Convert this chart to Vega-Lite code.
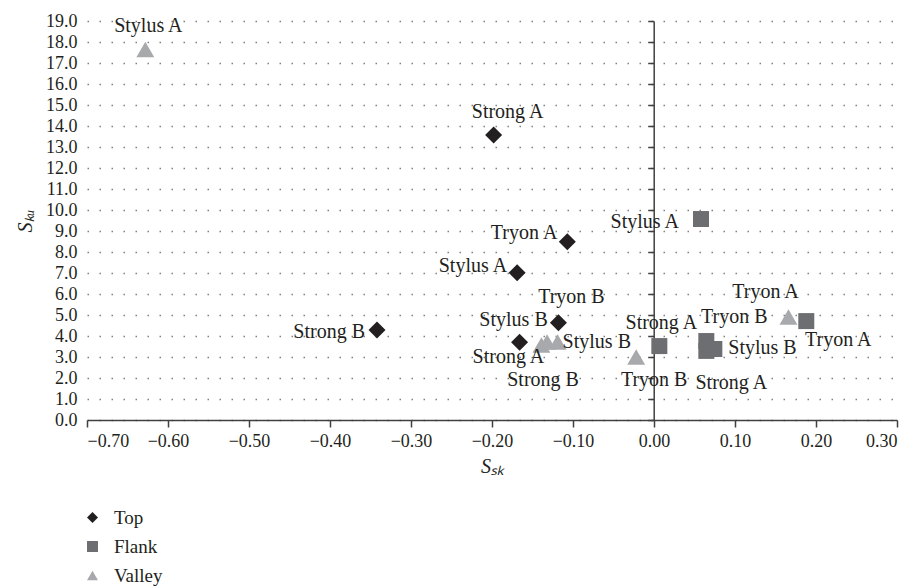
{
  "$schema": "https://vega.github.io/schema/vega-lite/v6.json",
  "width": 810,
  "height": 399,
  "autosize": {"type": "none"},
  "padding": {"left": 87, "top": 21, "right": 19, "bottom": 166},
  "background": "white",
  "config": {
    "view": {"stroke": null},
    "font": "Liberation Serif",
    "text": {"font": "Liberation Serif", "fontSize": 20, "color": "#231f20"},
    "axis": {"labelFont": "Liberation Serif", "titleFont": "Liberation Serif", "labelFontSize": 18, "titleFontSize": 20, "labelColor": "#231f20", "titleColor": "#231f20", "titleFontWeight": "normal"},
    "legend": {"labelFont": "Liberation Serif", "labelFontSize": 19, "labelColor": "#231f20"}
  },
  "data": {
    "values": [
      {"group": "Top", "label": "Strong A", "ssk": -0.198, "sku": 13.57},
      {"group": "Top", "label": "Tryon A", "ssk": -0.107, "sku": 8.49},
      {"group": "Top", "label": "Stylus A", "ssk": -0.169, "sku": 7.01},
      {"group": "Top", "label": "Strong B", "ssk": -0.342, "sku": 4.29},
      {"group": "Top", "label": "Tryon B", "ssk": -0.118, "sku": 4.63},
      {"group": "Top", "label": "Stylus B", "ssk": -0.166, "sku": 3.70},
      {"group": "Flank", "label": "Stylus A", "ssk": 0.058, "sku": 9.57},
      {"group": "Flank", "label": "Tryon A", "ssk": 0.188, "sku": 4.71},
      {"group": "Flank", "label": "Strong A", "ssk": 0.0066, "sku": 3.52},
      {"group": "Flank", "label": "Tryon B", "ssk": 0.0646, "sku": 3.76},
      {"group": "Flank", "label": "Stylus B", "ssk": 0.0745, "sku": 3.38},
      {"group": "Flank", "label": "Strong A", "ssk": 0.0646, "sku": 3.29},
      {"group": "Valley", "label": "Stylus A", "ssk": -0.628, "sku": 17.64},
      {"group": "Valley", "label": "Strong A", "ssk": -0.139, "sku": 3.57},
      {"group": "Valley", "label": "Strong B", "ssk": -0.132, "sku": 3.71},
      {"group": "Valley", "label": "Stylus B", "ssk": -0.119, "sku": 3.71},
      {"group": "Valley", "label": "Tryon A", "ssk": 0.166, "sku": 4.90},
      {"group": "Valley", "label": "Tryon B", "ssk": -0.022, "sku": 3.00}
    ]
  },
  "encoding": {
    "x": {
      "field": "ssk", "type": "quantitative",
      "scale": {"domain": [-0.7, 0.3], "nice": false, "zero": false},
      "axis": {
        "title": "Sₛₖ", "titleFontStyle": "italic", "format": ".2f",
        "values": [-0.7, -0.6, -0.5, -0.4, -0.3, -0.2, -0.1, 0, 0.1, 0.2, 0.3],
        "grid": false, "domainColor": "#404040", "domainWidth": 1.5,
        "tickColor": "#404040", "tickWidth": 1.5, "tickSize": 7,
        "labelPadding": 5, "titlePadding": 6
      }
    },
    "y": {
      "field": "sku", "type": "quantitative",
      "scale": {"domain": [0, 19], "nice": false, "zero": true},
      "axis": {
        "title": "Sₖᵤ", "titleFontStyle": "italic", "format": ".1f",
        "values": [0, 1, 2, 3, 4, 5, 6, 7, 8, 9, 10, 11, 12, 13, 14, 15, 16, 17, 18, 19],
        "grid": true, "gridDash": [1.5, 10.5], "gridColor": "#808080", "gridWidth": 1.5,
        "domain": false, "ticks": false, "labelPadding": 10, "titlePadding": 10
      }
    }
  },
  "resolve": {"axis": {"y": "independent"}},
  "layer": [
    {
      "layer": [
        {
          "mark": {"type": "point", "filled": true, "opacity": 1},
          "encoding": {
            "color": {
              "field": "group", "type": "nominal",
              "scale": {"domain": ["Top", "Flank", "Valley"], "range": ["#231f20", "#6d6e71", "#a7a9ac"]},
              "legend": {"orient": "none", "legendX": -4, "legendY": 487, "title": null, "symbolSize": 120, "rowPadding": 9, "labelOffset": 12}
            },
            "shape": {
              "field": "group", "type": "nominal",
              "scale": {"domain": ["Top", "Flank", "Valley"], "range": ["diamond", "square", "triangle-up"]},
              "legend": {"orient": "none", "legendX": -4, "legendY": 487, "title": null, "symbolSize": 120, "rowPadding": 9, "labelOffset": 12}
            },
            "size": {
              "condition": [
                {"test": "datum.group === 'Flank'", "value": 256},
                {"test": "datum.group === 'Valley'", "value": 320}
              ],
              "value": 289
            }
          }
        },
        {"transform": [{"filter": "datum.group === 'Top' && datum.label === 'Strong A'"}], "mark": {"type": "text", "align": "center", "baseline": "middle", "dx": 14, "dy": -23}, "encoding": {"text": {"field": "label"}}},
        {"transform": [{"filter": "datum.group === 'Top' && datum.label === 'Tryon A'"}], "mark": {"type": "text", "align": "right", "baseline": "middle", "dx": -10, "dy": -9}, "encoding": {"text": {"field": "label"}}},
        {"transform": [{"filter": "datum.group === 'Top' && datum.label === 'Stylus A'"}], "mark": {"type": "text", "align": "right", "baseline": "middle", "dx": -10, "dy": -7}, "encoding": {"text": {"field": "label"}}},
        {"transform": [{"filter": "datum.group === 'Top' && datum.label === 'Strong B'"}], "mark": {"type": "text", "align": "right", "baseline": "middle", "dx": -12, "dy": 2}, "encoding": {"text": {"field": "label"}}},
        {"transform": [{"filter": "datum.group === 'Top' && datum.label === 'Tryon B'"}], "mark": {"type": "text", "align": "center", "baseline": "middle", "dx": 13, "dy": -26}, "encoding": {"text": {"field": "label"}}},
        {"transform": [{"filter": "datum.group === 'Top' && datum.label === 'Stylus B'"}], "mark": {"type": "text", "align": "center", "baseline": "middle", "dx": -6, "dy": -22}, "encoding": {"text": {"field": "label"}}},
        {"transform": [{"filter": "datum.group === 'Valley' && datum.label === 'Stylus A'"}], "mark": {"type": "text", "align": "center", "baseline": "middle", "dx": 3, "dy": -24}, "encoding": {"text": {"field": "label"}}},
        {"transform": [{"filter": "datum.group === 'Valley' && datum.label === 'Strong A'"}], "mark": {"type": "text", "align": "center", "baseline": "middle", "dx": -33, "dy": 12}, "encoding": {"text": {"field": "label"}}},
        {"transform": [{"filter": "datum.group === 'Valley' && datum.label === 'Strong B'"}], "mark": {"type": "text", "align": "center", "baseline": "middle", "dx": -4, "dy": 38}, "encoding": {"text": {"field": "label"}}},
        {"transform": [{"filter": "datum.group === 'Valley' && datum.label === 'Stylus B'"}], "mark": {"type": "text", "align": "left", "baseline": "middle", "dx": 5, "dy": 0}, "encoding": {"text": {"field": "label"}}},
        {"transform": [{"filter": "datum.group === 'Valley' && datum.label === 'Tryon A'"}], "mark": {"type": "text", "align": "center", "baseline": "middle", "dx": -23, "dy": -25}, "encoding": {"text": {"field": "label"}}},
        {"transform": [{"filter": "datum.group === 'Valley' && datum.label === 'Tryon B'"}], "mark": {"type": "text", "align": "center", "baseline": "middle", "dx": 18, "dy": 23}, "encoding": {"text": {"field": "label"}}},
        {"transform": [{"filter": "datum.group === 'Flank' && datum.label === 'Stylus A'"}], "mark": {"type": "text", "align": "right", "baseline": "middle", "dx": -22, "dy": 3}, "encoding": {"text": {"field": "label"}}},
        {"transform": [{"filter": "datum.group === 'Flank' && datum.label === 'Tryon A'"}], "mark": {"type": "text", "align": "center", "baseline": "middle", "dx": 32, "dy": 19}, "encoding": {"text": {"field": "label"}}},
        {"transform": [{"filter": "datum.group === 'Flank' && datum.label === 'Strong A' && datum.ssk < 0.03"}], "mark": {"type": "text", "align": "center", "baseline": "middle", "dx": 2, "dy": -23}, "encoding": {"text": {"field": "label"}}},
        {"transform": [{"filter": "datum.group === 'Flank' && datum.label === 'Tryon B'"}], "mark": {"type": "text", "align": "center", "baseline": "middle", "dx": 28, "dy": -24}, "encoding": {"text": {"field": "label"}}},
        {"transform": [{"filter": "datum.group === 'Flank' && datum.label === 'Stylus B'"}], "mark": {"type": "text", "align": "left", "baseline": "middle", "dx": 14, "dy": -1}, "encoding": {"text": {"field": "label"}}},
        {"transform": [{"filter": "datum.group === 'Flank' && datum.label === 'Strong A' && datum.ssk > 0.03"}], "mark": {"type": "text", "align": "center", "baseline": "middle", "dx": 25, "dy": 32}, "encoding": {"text": {"field": "label"}}}
      ]
    },
    {
      "mark": {"type": "point", "opacity": 0},
      "encoding": {
        "y": {
          "field": "sku", "type": "quantitative",
          "axis": {
            "orient": "left", "offset": -566.7, "labels": false, "grid": false, "title": null,
            "values": [0, 1, 2, 3, 4, 5, 6, 7, 8, 9, 10, 11, 12, 13, 14, 15, 16, 17, 18, 19],
            "domain": true, "domainColor": "#404040", "domainWidth": 1.5,
            "ticks": true, "tickColor": "#404040", "tickWidth": 1.5, "tickSize": 6
          }
        }
      }
    }
  ]
}
